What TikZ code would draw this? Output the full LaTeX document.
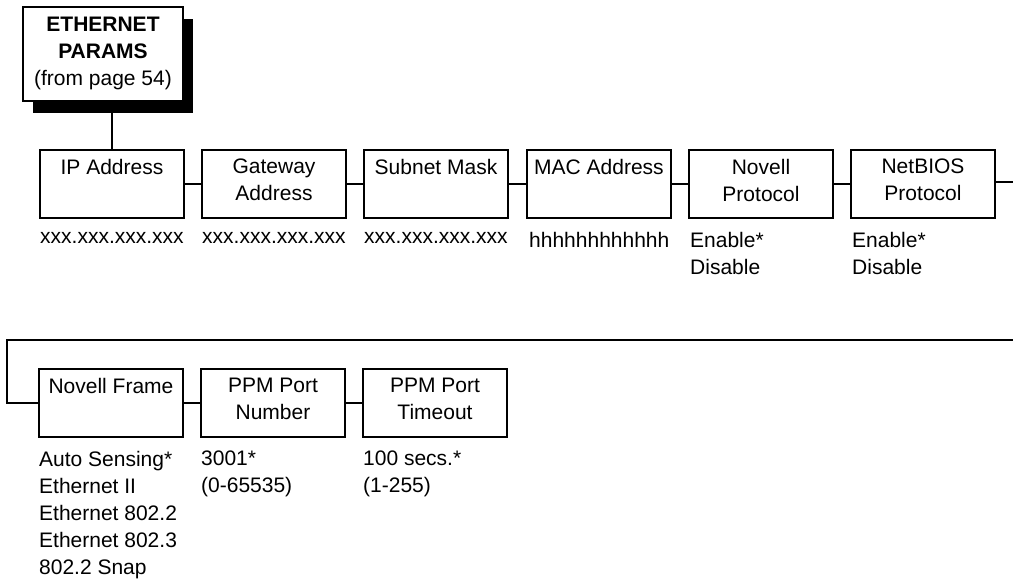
\documentclass[tikz,border=0pt]{standalone}
\usepackage{fontspec}
\setmainfont{Liberation Sans}
\usetikzlibrary{shadows,calc}
\begin{document}
\begin{tikzpicture}[x=1pt,y=-1pt,
  every node/.style={font=\fontsize{21}{27}\selectfont},
  menubox/.style={draw=black,line width=2pt,minimum width=144pt,minimum height=68pt,inner sep=0pt},
  headbox/.style={draw=black,fill=white,line width=2pt,minimum width=160pt,minimum height=94pt,inner sep=0pt,
    drop shadow={shadow xshift=10pt,shadow yshift=-12pt,fill=black,opacity=1}},
  ttl/.style={anchor=north,align=center,inner sep=0pt},
  vals/.style={anchor=north west,align=left,inner sep=0pt},
  conn/.style={line width=2pt}]
\useasboundingbox (0,0) rectangle (1013,579);
% header
\node[headbox] (top) at (103,54) {};
\node[ttl] (toptxt) at (103,17) {\textbf{ETHERNET}\\\textbf{PARAMS}\\(from page 54)};
% row 1 boxes
\node[menubox] (ip)  at (112,184) {};
\node[menubox] (gw)  at (274,184) {};
\node[menubox] (sn)  at (436,184) {};
\node[menubox] (mac) at (599,184) {};
\node[menubox] (np)  at (761,184) {};
\node[menubox] (nb)  at (923,184) {};
\node[ttl] (ipt)  at (112,159) {IP Address};
\node[ttl] (gwt)  at (274,159) {Gateway\\Address};
\node[ttl] (snt)  at (436,159) {Subnet Mask};
\node[ttl] (mact) at (599,159) {MAC Address};
\node[ttl] (npt)  at (761,159) {Novell\\Protocol};
\node[ttl] (nbt)  at (923,159) {NetBIOS\\Protocol};
% row 1 values
\node[vals] (ipv)  at (40,232) {xxx.xxx.xxx.xxx};
\node[vals] (gwv)  at (202,232) {xxx.xxx.xxx.xxx};
\node[vals] (snv)  at (364,232) {xxx.xxx.xxx.xxx};
\node[vals] (macv) at (529,232) {hhhhhhhhhhhh};
\node[vals] (npv)  at (690,232) {Enable*\\Disable};
\node[vals] (nbv)  at (852,232) {Enable*\\Disable};
% row 2 boxes
\node[menubox] (nf) at (111,403) {};
\node[menubox] (pn) at (273,403) {};
\node[menubox] (pt) at (435,403) {};
\node[ttl] (nft) at (111,378) {Novell Frame};
\node[ttl] (pnt) at (273,378) {PPM Port\\Number};
\node[ttl] (ptt) at (435,378) {PPM Port\\Timeout};
% row 2 values
\node[vals] (nfv) at (39,451) {Auto Sensing*\\Ethernet II\\Ethernet 802.2\\Ethernet 802.3\\802.2 Snap};
\node[vals] (pnv) at (201,451) {3001*\\(0-65535)};
\node[vals] (ptv) at (363,451) {100 secs.*\\(1-255)};
% connectors
\coordinate (r1end) at (1013,182);
\coordinate (r2start) at (1013,340);
\coordinate (r2corner) at (7,340);
\draw[conn] (ip.north) -- (ip.north |- top.south);
\draw[conn] (ip.east) -- (gw.west);
\draw[conn] (gw.east) -- (sn.west);
\draw[conn] (sn.east) -- (mac.west);
\draw[conn] (mac.east) -- (np.west);
\draw[conn] (np.east) -- (nb.west);
\draw[conn] (nb.east |- r1end) -- (r1end);
\draw[conn] (r2start) -- (r2corner) |- (nf.west);
\draw[conn] (nf.east) -- (pn.west);
\draw[conn] (pn.east) -- (pt.west);
\end{tikzpicture}
\end{document}
